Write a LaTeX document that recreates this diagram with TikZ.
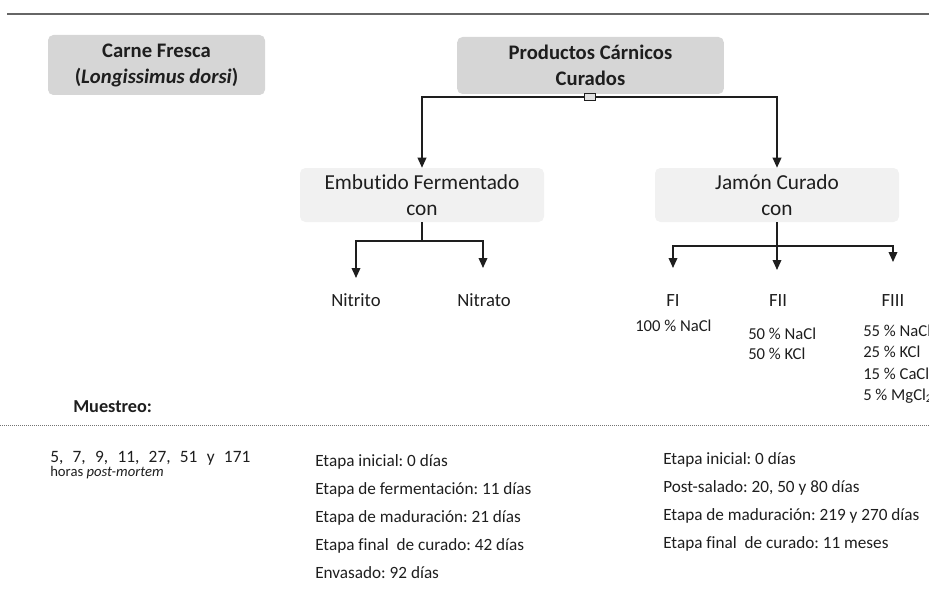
\documentclass[tikz,border=0pt]{standalone}
\usepackage{fontspec}
\setmainfont{Carlito}[Ligatures=NoCommon]
\usetikzlibrary{arrows.meta}
\definecolor{hdrfill}{HTML}{D6D6D6}
\definecolor{lightfill}{HTML}{F1F1F1}
\definecolor{ink}{HTML}{1E1E1E}
\frenchspacing
\begin{document}
\begin{tikzpicture}[x=0.75pt,y=-0.75pt,
  conn/.style={draw=ink, line width=1.1pt},
  arr/.style={conn,-{Triangle[width=6.5pt,length=7.5pt]}},
  hdrbox/.style={fill=hdrfill, rounded corners=4pt, align=center, text=ink,
    font=\fontsize{15.5}{19.5}\selectfont\bfseries, inner sep=0pt},
  subbox/.style={fill=lightfill, rounded corners=4pt, align=center, text=ink,
    minimum width=183pt, minimum height=40.5pt,
    font=\fontsize{16}{19.5}\selectfont, inner sep=0pt},
  lbl/.style={text=ink, font=\fontsize{14}{17}\selectfont, inner sep=0pt},
  small/.style={text=ink, align=left, inner sep=0pt, anchor=west},
]
\useasboundingbox (0,0) rectangle (929,610);

% top rule
\draw[black!60, line width=1.2pt] (7,14) -- (929,14);

% header boxes
\node[hdrbox, minimum width=162.75pt, minimum height=45pt] (carne) at (156.5,65)
  {Carne Fresca\\(\textit{Longissimus dorsi})};
\node[hdrbox, minimum width=200pt, minimum height=42.75pt] (prod) at (590.5,65.5)
  {Productos Cárnicos\\Curados};

% second level boxes
\node[subbox] (emb) at (422,195) {Embutido Fermentado\\con};
\node[subbox] (jam) at (777,195) {Jamón Curado\\con};

% handle on connector
\coordinate (hc) at (590,97);

\draw[arr] (hc) -| (emb.north);
\draw[arr] (hc) -| (jam.north);
\node[draw=ink, fill=black!12, line width=0.6pt, minimum width=8.5pt, minimum height=5.5pt, inner sep=0pt] (handle) at (hc) {};

% leaves of Embutido
\node[lbl] (nitrito) at (356,300) {Nitrito};
\node[lbl] (nitrato) at (484,300) {Nitrato};
\coordinate (ej) at (422,241);
\coordinate (nitin) at (356,278);
\coordinate (natin) at (483,268);
\draw[conn] (emb.south) -- (ej);
\draw[arr] (ej) -| (nitin);
\draw[arr] (ej) -| (natin);

% leaves of Jamon
\node[lbl] (fi) at (673,301) {FI};
\node[lbl] (fii) at (778,301) {FII};
\node[lbl] (fiii) at (893,301) {FIII};
\coordinate (jj) at (777,246);
\coordinate (fiin) at (673,268);
\coordinate (fiiin) at (777,270);
\coordinate (fiiiin) at (893,262);
\draw[arr] (jam.south) -- (fiiin);
\draw[arr] (jj) -| (fiin);
\draw[arr] (jj) -| (fiiiin);

% formulations
\node[small, font=\fontsize{12.5}{15}\selectfont] (f1) at (635,326) {100 \% NaCl};
\node[small, font=\fontsize{12.5}{15}\selectfont] (f2) at (748,344) {50 \% NaCl\\50 \% KCl};
\node[small, font=\fontsize{12.5}{16}\selectfont] (f3) at (863,364)
  {55 \% NaCl\\25 \% KCl\\15 \% CaCl\textsubscript{2}\\5 \% MgCl\textsubscript{2}};

% Muestreo
\node[small, font=\fontsize{13.7}{16}\selectfont\bfseries] (mues) at (73,407) {Muestreo:};
\draw[black!55, line width=0.6pt, dash pattern=on 0.75pt off 0.75pt] (0,425) -- (929,425);

% sampling columns
\node[small, font=\fontsize{13}{15}\selectfont] (c1a) at (50,458)
  {\makebox[150pt][s]{5, 7, 9, 11, 27, 51 y 171}};
\node[small, font=\fontsize{11}{13}\selectfont] (c1b) at (50,473) {horas \textit{post-mortem}};
\node[small, font=\fontsize{12.9}{21}\selectfont] (c2) at (315,516.5)
  {Etapa inicial: 0 días\\Etapa de fermentación: 11 días\\Etapa de maduración: 21 días\\Etapa final\ \ de curado: 42 días\\Envasado: 92 días};
\node[small, font=\fontsize{12.9}{21}\selectfont] (c3) at (663,502)
  {Etapa inicial: 0 días\\Post-salado: 20, 50 y 80 días\\Etapa de maduración: 219 y 270 días\\Etapa final\ \ de curado: 11 meses};
\end{tikzpicture}
\end{document}
